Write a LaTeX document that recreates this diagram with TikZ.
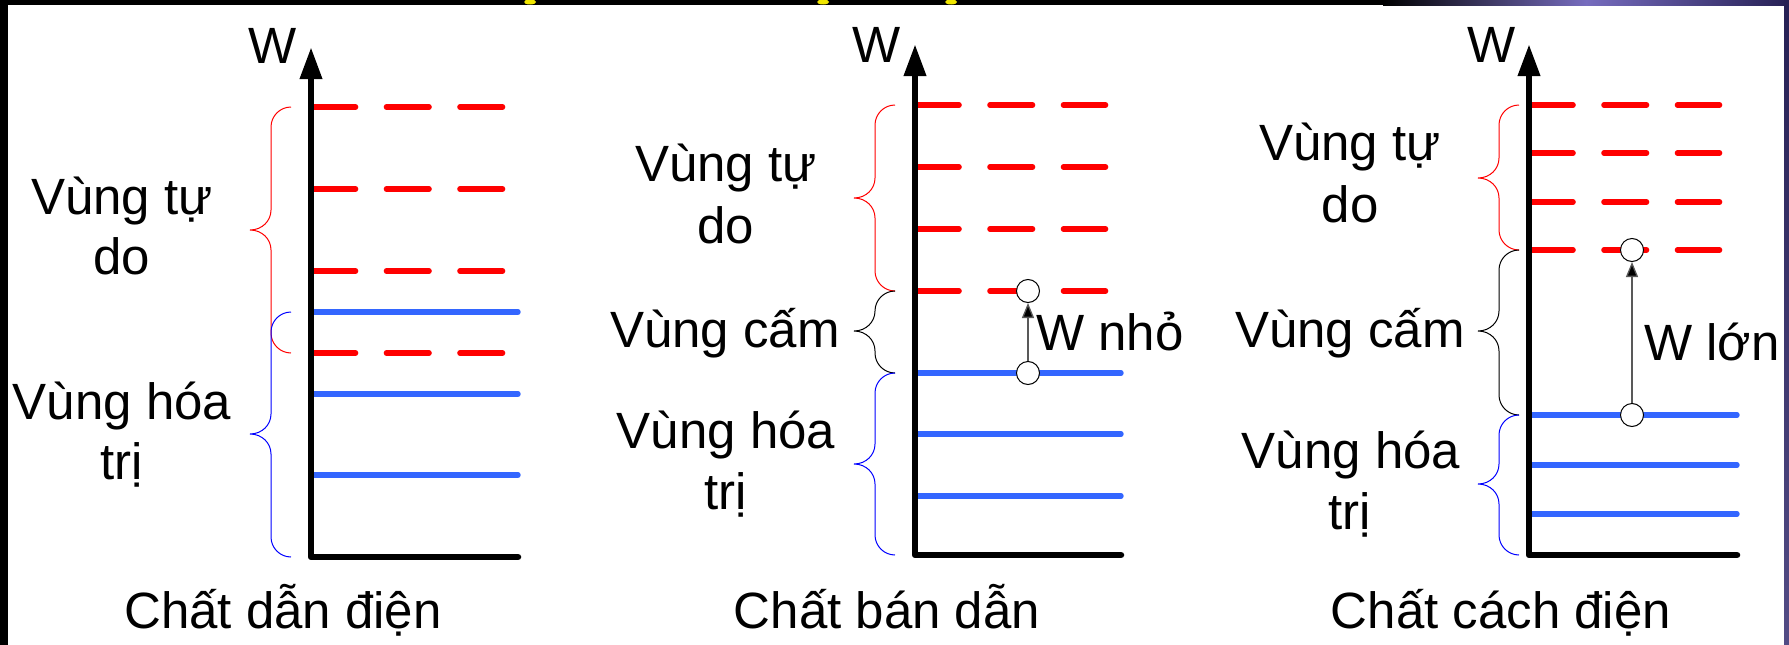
\documentclass[tikz,border=0pt]{standalone}
\usepackage{fontspec}
\setmainfont{Liberation Sans}
\usetikzlibrary{arrows.meta}

\definecolor{bandred}{RGB}{255,0,0}
\definecolor{bandblue}{RGB}{51,102,255}
\definecolor{braceblue}{RGB}{0,0,255}
\definecolor{deepviolet}{RGB}{38,32,84}
\definecolor{paleviolet}{RGB}{118,108,190}
\definecolor{titleyellow}{RGB}{240,230,0}

\tikzset{
  lbl/.style={inner sep=0pt, anchor=base, font=\fontsize{51}{60}\selectfont},
  lblw/.style={lbl, anchor=base west},
  axisline/.style={line width=6.5pt, line cap=round, line join=round,
                   -{Triangle[length=32pt,width=21pt]}},
  conduct/.style={line width=5.6pt, line cap=round, draw=bandred,
                  dash pattern=on 42.5pt off 31pt},
  valence/.style={line width=5.4pt, line cap=round, draw=bandblue},
  bracel/.style={line width=1pt},
  electron/.style={circle, draw=black, fill=white, line width=1pt,
                   minimum size=23pt, inner sep=0pt},
  jump/.style={line width=1.3pt, draw=black!65,
               -{Triangle[length=15pt,width=12pt,fill=black]}}
}

% curly brace opening to the right: colour, end x, top y, bottom y, tip y
\newcommand\bandbrace[5]{%
  \draw[bracel,#1] (#2,#3) .. controls (#2-11,#3) and (#2-20,#3+9) .. (#2-20,#3+20)
    -- (#2-20,#5-20) .. controls (#2-20,#5-9) and (#2-29,#5) .. (#2-41,#5)
    .. controls (#2-29,#5) and (#2-20,#5+9) .. (#2-20,#5+20)
    -- (#2-20,#4-20) .. controls (#2-20,#4-9) and (#2-11,#4) .. (#2,#4);}

\begin{document}
\begin{tikzpicture}[x=1pt,y=-1pt]
\useasboundingbox (0,0) rectangle (1789,645);

% page and frame
\fill[white] (0,0) rectangle (1789,645);
\fill[black] (0,0) rectangle (1789,5);
\fill[black] (0,0) rectangle (8,645);
\shade[left color=black, right color=deepviolet, middle color=paleviolet]
  (1383,0) rectangle (1789,5);
\shade[top color=deepviolet, bottom color=paleviolet!70!black]
  (1784,0) rectangle (1789,645);
\fill[titleyellow] (530,2) ellipse [x radius=6, y radius=2.5];
\fill[titleyellow] (823,2) ellipse [x radius=6, y radius=2.5];
\fill[titleyellow] (951,2) ellipse [x radius=6, y radius=2.5];

% ---------- conductor ----------
\coordinate (a1) at (518,557);
\coordinate (o1) at (311,557);
\coordinate (t1) at (311,47);
\foreach \y in {107,189,271,353} \draw[conduct] (313,\y) -- (503,\y);
\foreach \y in {312,394,475} \draw[valence] (311,\y) -- (518,\y);
\draw[axisline] (a1) -- (o1) -- (t1);
\bandbrace{bandred}{291}{107}{353}{230}
\bandbrace{braceblue}{291}{312}{557}{434}
\node[lbl] (w1) at (273,63) {W};
\node[lbl] (f1a) at (122,214) {Vùng tự};
\node[lbl] (f1b) at (122,274) {do};
\node[lbl] (v1a) at (122,419) {Vùng hóa};
\node[lbl] (v1b) at (122,479) {trị};
\node[lbl] (n1) at (283,628) {Chất dẫn điện};

% ---------- semiconductor ----------
\coordinate (a2) at (1121,555);
\coordinate (o2) at (915,555);
\coordinate (t2) at (915,44);
\foreach \y in {105,167,229,291} \draw[conduct] (916.5,\y) -- (1105.5,\y);
\foreach \y in {373,434,496} \draw[valence] (915,\y) -- (1121,\y);
\draw[axisline] (a2) -- (o2) -- (t2);
\bandbrace{bandred}{895}{105}{291}{198}
\bandbrace{black}{895}{291}{373}{331}
\bandbrace{braceblue}{895}{373}{555}{464}
\node[electron] (e2up) at (1028,291) {};
\node[electron] (e2lo) at (1028,373) {};
\draw[jump] (e2lo.north) -- (e2up.south);
\node[lbl] (w2) at (877,62) {W};
\node[lbl] (f2a) at (726,181) {Vùng tự};
\node[lbl] (f2b) at (726,243) {do};
\node[lbl] (g2) at (725,347) {Vùng cấm};
\node[lbl] (v2a) at (726,448) {Vùng hóa};
\node[lbl] (v2b) at (726,509) {trị};
\node[lblw] (d2) at (1036,350) {W nhỏ};
\node[lbl] (n2) at (887,628) {Chất bán dẫn};

% ---------- insulator ----------
\coordinate (a3) at (1737,555);
\coordinate (o3) at (1529,555);
\coordinate (t3) at (1529,44);
\foreach \y in {105,153,202,250} \draw[conduct] (1530.5,\y) -- (1719.5,\y);
\foreach \y in {415,465,514} \draw[valence] (1529,\y) -- (1737,\y);
\draw[axisline] (a3) -- (o3) -- (t3);
\bandbrace{bandred}{1519}{105}{250}{178}
\bandbrace{black}{1519}{250}{415}{331}
\bandbrace{braceblue}{1519}{415}{555}{484}
\node[electron] (e3up) at (1632,250) {};
\node[electron] (e3lo) at (1632,415) {};
\draw[jump] (e3lo.north) -- (e3up.south);
\node[lbl] (w3) at (1492,62) {W};
\node[lbl] (f3a) at (1350,160) {Vùng tự};
\node[lbl] (f3b) at (1350,222) {do};
\node[lbl] (g3) at (1350,347) {Vùng cấm};
\node[lbl] (v3a) at (1351,468) {Vùng hóa};
\node[lbl] (v3b) at (1350,529) {trị};
\node[lblw] (d3) at (1644,360) {W lớn};
\node[lbl] (n3) at (1501,628) {Chất cách điện};
\end{tikzpicture}
\end{document}
